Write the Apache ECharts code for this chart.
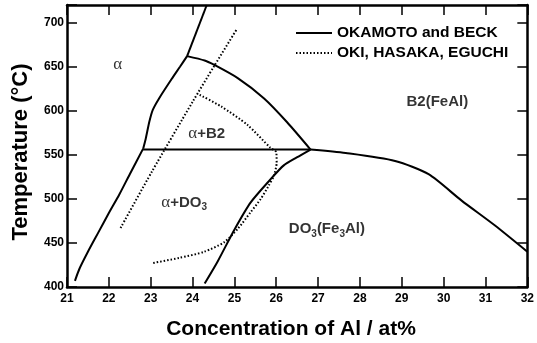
<!DOCTYPE html>
<html>
<head>
<meta charset="utf-8">
<script src="https://cdn.jsdelivr.net/npm/echarts@6/dist/echarts.min.js"></script>
<style>
html,body{margin:0;padding:0;background:#fff;}
#chart{width:537px;height:343px;}
</style>
</head>
<body>
<div id="chart"></div>
<script>
// ---- data (Al at%, temperature °C) ----
const xTickLabels = [21,22,23,24,25,26,27,28,29,30,31,32];
const yTickLabels = [400,450,500,550,600,650,700];

const seriesNames = ['OKAMOTO and BECK', 'OKI, HASAKA, EGUCHI'];

// OKAMOTO and BECK (solid)
const okamotoAlphaLow  = [[21.19,407],[21.3,421],[21.5,440],[21.75,462],[22.0,484],[22.25,505],[22.5,528],[22.82,557]];
const okamotoAlphaHigh = [[22.82,557],[22.88,568],[22.97,588],[23.05,601],[23.2,614],[23.5,636],[23.7,650],[23.87,662]];
const okamotoUpper     = [[23.87,662],[24.34,720]];
const okamotoB2Dome    = [[23.87,662],[24.29,657],[24.52,652],[25.08,637],[25.71,614],[26.26,587],[26.82,556]];
const okamotoEutectoid = [[22.82,556],[26.82,556]];
const okamotoB2DO3     = [[26.82,556],[27.66,552],[28.84,543],[29.64,528],[30.43,498],[31.22,470],[32,440]];
const okamotoDO3       = [[24.29,404],[24.6,429],[25.0,465],[25.39,496],[25.86,522],[26.18,538],[26.49,547],[26.82,556]];

// OKI, HASAKA, EGUCHI (dotted)
const okiAlpha = [[22.28,467],[23.03,531],[24.0,610],[24.52,651],[25.05,692]];
const okiB2    = [[24.17,618],[24.68,605],[25.31,584],[25.86,558],[26.0,553],[26.01,541],[25.94,526],[25.82,515],[25.63,500],[25.39,485],[25.08,466],[24.76,451],[24.28,440],[23.68,433],[23.03,427]];

// phase-region labels and their positions (data coordinates)
const regionTexts = ['{a|α}', '{a|α}{b|+B2}', '{a|α}{b|+DO}{s|3}', '{b|B2(FeAl)}', '{b|DO}{s|3}{b|(Fe}{s|3}{b|Al)}'];
const regionAt = [[22.21,653],[24.34,574],[23.8,496],[29.85,610],[27.21,466]];

// ---- chart ----
const SANS = '"Liberation Sans", Arial, sans-serif';
const SERIF = '"Liberation Serif", "Times New Roman", serif';
const chart = echarts.init(document.getElementById('chart'), null, {renderer:'canvas'});

function solid(d){
  return {name: seriesNames[0], type:'line', data:d, symbol:'none', smooth:0.25,
    lineStyle:{color:'#000', width:2, type:'solid'}, itemStyle:{color:'#000'}, z:3, animation:false};
}
function dotted(d){
  return {name: seriesNames[1], type:'line', data:d, symbol:'none', smooth:0.25,
    lineStyle:{color:'#000', width:2, type:[1.5,2]}, itemStyle:{color:'#000'}, z:3, animation:false};
}

const axisLineStyle = {lineStyle:{color:'#000', width:2.5}};
const tickStyle = {show:true, inside:true, length:10, lineStyle:{color:'#000', width:1.5}};
const labelStyle = {color:'#000', fontSize:12, fontWeight:'bold', fontFamily:SANS};

const option = {
  backgroundColor:'#fff',
  animation:false,
  grid:{left:67, right:5, top:5, bottom:56, containLabel:false},
  legend:{
    data: seriesNames,
    orient:'vertical', left:295, top:25, padding:0,
    itemWidth:36, itemHeight:16, itemGap:4,
    itemStyle:{opacity:0},
    textStyle:{color:'#000', fontSize:15.5, fontWeight:'bold', fontFamily:SANS},
    inactiveColor:'#000'
  },
  xAxis:[
    {type:'value', min:21, max:32, interval:1, position:'bottom',
     axisLine:axisLineStyle, axisTick:tickStyle, splitLine:{show:false},
     axisLabel:Object.assign({margin:6, formatter:v => xTickLabels.includes(v) ? String(v) : ''}, labelStyle)},
    {type:'value', min:21, max:32, interval:1, position:'top',
     axisLine:axisLineStyle, axisTick:tickStyle, splitLine:{show:false}, axisLabel:{show:false}}
  ],
  yAxis:[
    {type:'value', min:400, max:720, interval:50, position:'left',
     axisLine:axisLineStyle, axisTick:tickStyle, splitLine:{show:false},
     axisLabel:Object.assign({margin:3, formatter:v => yTickLabels.includes(v) ? String(v) : ''}, labelStyle)},
    {type:'value', min:400, max:720, interval:50, position:'right',
     axisLine:axisLineStyle, axisTick:tickStyle, splitLine:{show:false}, axisLabel:{show:false}}
  ],
  graphic:[
    {type:'text', x:20.5, y:152, rotation:Math.PI/2,
     style:{text:'Temperature (°C)', fill:'#000', font:'bold 22px ' + SANS, textAlign:'center', textVerticalAlign:'middle'}},
    {type:'text', x:291, y:329,
     style:{text:'Concentration of Al / at%', fill:'#000', font:'bold 21px ' + SANS, textAlign:'center', textVerticalAlign:'middle'}}
  ],
  series:[
    solid(okamotoAlphaLow), solid(okamotoAlphaHigh), solid(okamotoUpper), solid(okamotoB2Dome),
    solid(okamotoEutectoid), solid(okamotoB2DO3), solid(okamotoDO3),
    dotted(okiAlpha), dotted(okiB2),
    {name:'regions', type:'scatter', symbolSize:0, silent:true, z:4,
     data: regionAt.map((p,i) => ({value:p, label:{formatter:regionTexts[i]}})),
     label:{show:true, position:'inside', color:'#000',
       rich:{
         a:{fontFamily:SERIF, fontSize:17, color:'#000', lineHeight:20},
         b:{fontFamily:SANS, fontSize:15, fontWeight:'bold', color:'#000', lineHeight:20},
         s:{fontFamily:SANS, fontSize:10, fontWeight:'bold', color:'#000', lineHeight:10, verticalAlign:'bottom'}
       }}}
  ]
};
chart.setOption(option);
</script>
</body>
</html>
